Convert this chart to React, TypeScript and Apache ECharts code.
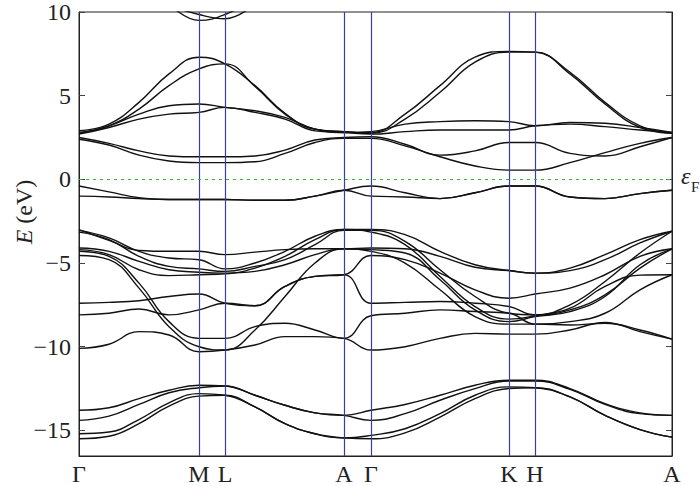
import React, { useEffect, useRef } from "react";
import * as echarts from "echarts";

// k-path positions (arbitrary units) and high-symmetry points
const kPath = [0, 0.3, 0.6, 0.9, 1.2, 1.46, 1.76, 2.06, 2.36, 2.65, 2.92, 3.26, 3.61, 3.96, 4.3, 4.56, 4.91, 5.26, 5.61, 5.93];
const symK = [0, 1.2, 1.46, 2.65, 2.92, 4.3, 4.56, 5.93];
const symLabels = ["Γ", "M", "L", "A", "Γ", "K", "H", "A"];
const yTicks = [-15, -10, -5, 0, 5, 10];

// conduction bands (eV)
const cb1 = [2.9, 3.3, 4.6, 6.3, 7.3, 6.9, 5.6, 3.95, 3.0, 2.85, 2.8, 3.9, 5.6, 7.3, 7.65, 7.6, 6.4, 4.6, 3.2, 2.75];
const cb2 = [2.8, 3.2, 4.2, 5.6, 6.6, 6.9, 5.55, 3.9, 3.0, 2.85, 2.75, 3.6, 5.2, 7.0, 7.6, 7.6, 6.3, 4.5, 3.1, 2.75];
const cb3 = [2.75, 3.2, 3.9, 4.4, 4.5, 4.3, 4.1, 3.7, 3.0, 2.8, 2.85, 3.3, 3.45, 3.5, 3.45, 3.2, 3.4, 3.35, 3.1, 2.8];
const cb4 = [2.7, 3.1, 3.6, 3.9, 4.0, 4.3, 4.0, 3.6, 2.9, 2.8, 2.7, 2.85, 2.95, 2.95, 2.95, 3.2, 3.3, 3.15, 2.95, 2.8];
const cb5 = [2.5, 2.15, 1.7, 1.4, 1.35, 1.35, 1.4, 1.75, 2.35, 2.5, 2.55, 2.1, 1.45, 1.7, 2.2, 2.2, 1.55, 1.4, 1.95, 2.5];
const cb6 = [2.4, 2.05, 1.45, 1.1, 1.0, 1.0, 1.05, 1.55, 2.2, 2.45, 2.45, 2.0, 1.35, 0.8, 0.55, 0.55, 1.0, 1.6, 2.15, 2.5];
// high bands near M-L (partial)
const topK = [0.9, 1.2, 1.46, 1.76];
const top1 = [10.5, 9.5, 9.85, 10.8];
const top2 = [10.4, 9.85, 9.6, 10.5];

// upper valence bands
const vb0a = [-0.4, -0.75, -1.1, -1.2, -1.2, -1.2, -1.25, -1.25, -1.0, -0.65, -0.4, -0.8, -1.15, -0.8, -0.4, -0.4, -1.05, -1.15, -0.85, -0.65];
const vb0b = [-1.0, -1.05, -1.15, -1.2, -1.2, -1.2, -1.25, -1.25, -1.0, -0.65, -1.0, -1.05, -1.15, -0.8, -0.4, -0.4, -1.05, -1.15, -0.85, -0.65];

// valence bundle
const vb1 = [-3.0, -3.65, -4.25, -4.3, -4.3, -4.5, -4.35, -4.2, -4.15, -4.15, -4.1, -4.15, -4.6, -5.25, -5.45, -5.6, -5.3, -4.5, -3.6, -3.1];
const vb2 = [-3.05, -3.5, -4.3, -4.7, -4.8, -5.35, -5.0, -4.3, -3.4, -3.0, -3.0, -3.3, -4.3, -5.1, -5.45, -5.6, -5.45, -4.8, -3.8, -3.1];
const vb3 = [-3.15, -3.6, -4.6, -5.2, -5.35, -5.5, -5.2, -4.8, -3.9, -3.05, -3.05, -3.7, -5.4, -7.0, -8.0, -8.1, -7.5, -6.1, -4.4, -3.1];
const vb4 = [-4.1, -4.3, -4.9, -5.4, -5.55, -5.6, -5.5, -5.1, -4.5, -4.15, -4.2, -4.4, -6.0, -7.8, -8.5, -8.2, -7.9, -7.0, -5.1, -4.15];
const vb5 = [-4.2, -4.5, -5.4, -5.75, -5.7, -5.65, -5.3, -4.6, -3.6, -3.0, -3.15, -3.9, -5.8, -7.6, -8.35, -8.15, -7.7, -6.4, -5.72, -5.7];
const vb6 = [-4.3, -4.6, -6.2, -8.5, -9.5, -9.5, -8.8, -8.6, -9.0, -9.5, -8.15, -8.0, -7.8, -7.9, -8.0, -8.65, -8.5, -8.0, -6.6, -5.7];
const vb7 = [-4.55, -4.8, -6.5, -8.8, -10.0, -10.2, -9.0, -7.0, -5.0, -4.15, -4.3, -5.0, -6.6, -8.2, -8.65, -8.65, -8.7, -8.6, -9.0, -9.55];
const vb8 = [-7.4, -7.35, -7.25, -7.0, -6.85, -7.4, -7.55, -6.4, -5.8, -5.7, -4.55, -4.8, -5.6, -6.6, -7.1, -6.85, -6.5, -5.7, -4.6, -4.15];
const vb9 = [-8.1, -8.0, -7.75, -8.1, -7.8, -7.4, -7.55, -6.4, -5.8, -5.7, -7.4, -7.35, -7.3, -7.4, -7.6, -8.1, -7.8, -6.9, -5.3, -4.15];
const vb10 = [-10.1, -9.85, -9.1, -9.3, -10.3, -10.2, -9.9, -9.4, -9.4, -9.5, -10.2, -10.0, -9.5, -9.2, -9.25, -9.25, -9.0, -8.55, -9.1, -9.55];

// lowest band group
const lb1 = [-13.8, -13.65, -13.1, -12.6, -12.3, -12.35, -12.9, -13.5, -13.95, -14.1, -13.8, -13.45, -12.9, -12.3, -12.0, -12.0, -12.5, -13.4, -13.95, -14.1];
const lb2 = [-14.4, -14.15, -13.45, -12.75, -12.45, -12.35, -12.9, -13.5, -13.95, -14.1, -14.4, -14.0, -13.2, -12.5, -12.05, -12.05, -12.55, -13.45, -14.0, -14.1];
const lb3 = [-15.2, -15.1, -14.35, -13.35, -12.8, -12.9, -13.6, -14.6, -15.2, -15.45, -15.3, -14.9, -14.0, -12.9, -12.4, -12.45, -13.0, -14.1, -14.95, -15.4];
const lb4 = [-15.5, -15.35, -14.6, -13.55, -12.95, -12.9, -13.6, -14.6, -15.2, -15.45, -15.5, -15.15, -14.2, -13.1, -12.5, -12.45, -13.0, -14.1, -14.95, -15.4];

const bands = [cb1, cb2, cb3, cb4, cb5, cb6, vb0a, vb0b, vb1, vb2, vb3, vb4, vb5, vb6, vb7, vb8, vb9, vb10, lb1, lb2, lb3, lb4];
const partialBands = [top1, top2];

const FONT = "Liberation Serif, Times New Roman, serif";

export default function App() {
  const ref = useRef<HTMLDivElement>(null);
  useEffect(() => {
    if (!ref.current) return;
    const chart = echarts.init(ref.current, null, { renderer: "svg" });
    const lineStyle = { color: "#111", width: 1.4 };
    const series: any[] = bands.map((b) => ({
      type: "line",
      data: kPath.map((k, j) => [k, b[j]]),
      showSymbol: false,
      smooth: 0.45,
      lineStyle,
      itemStyle: { color: "#111" },
      silent: true,
      z: 3,
    }));
    partialBands.forEach((b) => {
      series.push({
        type: "line",
        data: topK.map((k, j) => [k, b[j]]),
        showSymbol: false,
        smooth: 0.45,
        lineStyle,
        itemStyle: { color: "#111" },
        silent: true,
        z: 3,
      });
    });
    series.push({
      type: "line",
      data: [],
      silent: true,
      itemStyle: { color: "#3c3ca8" },
      markLine: {
        silent: true,
        symbol: "none",
        label: { show: false },
        lineStyle: { color: "#3c3ca8", width: 1.2, type: "solid" },
        data: symK.slice(1, symK.length - 1).map((k) => ({ xAxis: k })),
      },
    });
    series.push({
      type: "line",
      data: [],
      silent: true,
      itemStyle: { color: "#2db82d" },
      markLine: {
        silent: true,
        symbol: "none",
        label: { show: false },
        lineStyle: { color: "#2db82d", width: 1, type: [3, 4], opacity: 1 },
        data: [{ yAxis: 0 }],
      },
    });
    chart.setOption({
      animation: false,
      backgroundColor: "#ffffff",
      grid: { left: 79, right: 28, top: 7, bottom: 28, show: true, borderColor: "#222", borderWidth: 1 },
      xAxis: {
        type: "value",
        min: 0,
        max: symK[symK.length - 1],
        axisLine: { show: true, onZero: false, lineStyle: { color: "#222" } },
        axisTick: { show: false },
        splitLine: { show: false },
        axisLabel: {
          customValues: symK,
          formatter: (v: number) => {
            const i = symK.findIndex((s) => Math.abs(s - v) < 1e-6);
            return i >= 0 ? symLabels[i] : "";
          },
          color: "#222",
          fontFamily: FONT,
          fontSize: 24,
          margin: 6,
        },
      },
      yAxis: [
        {
          type: "value",
          min: -16.53,
          max: 10,
          axisLine: { show: true, onZero: false, lineStyle: { color: "#222" } },
          axisTick: { show: true, inside: true, length: 6, customValues: yTicks, lineStyle: { color: "#444" } },
          splitLine: { show: false },
          axisLabel: {
            customValues: yTicks,
            formatter: (v: number) => String(v).replace("-", "\u2212"),
            color: "#222",
            fontFamily: FONT,
            fontSize: 24,
            margin: 8,
          },
        },
        {
          type: "value",
          position: "right",
          min: -16.53,
          max: 10,
          axisLine: { show: true, onZero: false, lineStyle: { color: "#222" } },
          axisTick: { show: true, inside: true, length: 6, customValues: yTicks, lineStyle: { color: "#444" } },
          splitLine: { show: false },
          axisLabel: { show: false },
        },
      ],
      series,
      graphic: [
        {
          type: "text",
          x: 24,
          y: 212,
          rotation: Math.PI / 2,
          style: {
            text: "{i|E} (eV)",
            rich: { i: { fontStyle: "italic", fontFamily: FONT, fontSize: 24, fill: "#222" } },
            fontFamily: FONT,
            fontSize: 24,
            fill: "#222",
            align: "center",
            verticalAlign: "middle",
          },
        },
        {
          type: "text",
          x: 681,
          y: 176,
          style: { text: "ε", fontFamily: FONT, fontStyle: "italic", fontSize: 24, fill: "#222", align: "left", verticalAlign: "middle" },
        },
        {
          type: "text",
          x: 691,
          y: 187,
          style: { text: "F", fontFamily: FONT, fontSize: 15, fill: "#222", align: "left", verticalAlign: "middle" },
        },
      ],
    });
    return () => chart.dispose();
  }, []);
  return <div ref={ref} style={{ position: "fixed", left: 0, top: 0, width: 700, height: 486 }} />;
}
